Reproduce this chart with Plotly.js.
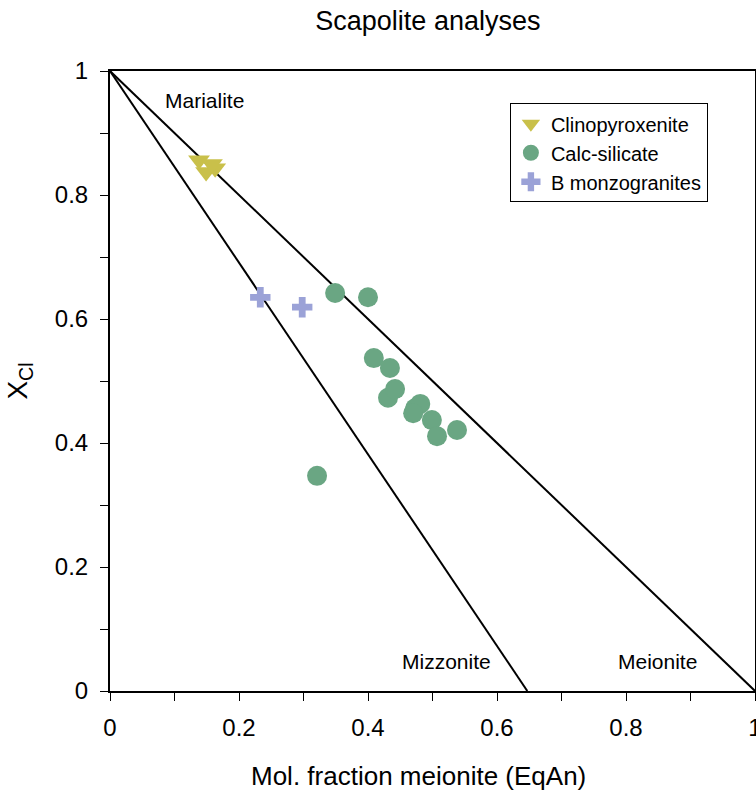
<!DOCTYPE html>
<html>
<head>
<meta charset="utf-8">
<script src="https://cdn.plot.ly/plotly-3.0.1.min.js"></script>
<style>html,body{margin:0;padding:0;background:#fff;}#chart{width:756px;height:794px;}</style>
</head>
<body>
<div id="chart"></div>
<script>
// Data
const clinoX = [0.138, 0.149, 0.163, 0.158];
const clinoY = [0.856, 0.837, 0.843, 0.850];
const calcX = [0.349, 0.400, 0.409, 0.434, 0.431, 0.442, 0.473, 0.481, 0.470, 0.499, 0.507, 0.538, 0.321];
const calcY = [0.642, 0.635, 0.537, 0.521, 0.473, 0.487, 0.456, 0.463, 0.448, 0.437, 0.411, 0.421, 0.347];
const bmonzX = [0.233, 0.298];
const bmonzY = [0.635, 0.619];
const meioniteLineX = [0, 1];
const meioniteLineY = [1, 0];
const mizzoniteLineX = [0, 0.647];
const mizzoniteLineY = [1, 0];
const labels = ["Marialite", "Mizzonite", "Meionite"];
const labelX = [0.147, 0.521, 0.849];
const labelY = [0.953, 0.048, 0.048];
const xTitle = 'Mol. fraction meionite (EqAn)';

const font = "Liberation Sans, Arial, sans-serif";

const traces = [
  {x: meioniteLineX, y: meioniteLineY, mode: 'lines', line: {color: '#000', width: 2}, showlegend: false, hoverinfo: 'skip'},
  {x: mizzoniteLineX, y: mizzoniteLineY, mode: 'lines', line: {color: '#000', width: 2}, showlegend: false, hoverinfo: 'skip'},
  {x: clinoX, y: clinoY, mode: 'markers', name: 'Clinopyroxenite',
   marker: {symbol: 'triangle-down', size: 19, color: '#c9c04a'}},
  {x: calcX, y: calcY, mode: 'markers', name: 'Calc-silicate',
   marker: {symbol: 'circle', size: 20, color: '#6aa683'}},
  {x: bmonzX, y: bmonzY, mode: 'markers', name: 'B monzogranites',
   marker: {symbol: 'cross', size: 17, color: '#9ba2d7'}}
];

const annotations = labels.map((t, i) => ({
  x: labelX[i], y: labelY[i], text: t, showarrow: false,
  font: {family: font, size: 21, color: '#000'}
}));
// x-axis title (placed slightly left of plot centre, as in the reference)
annotations.push({
  xref: 'paper', yref: 'paper', x: 0.479, y: -0.137, xanchor: 'center', yanchor: 'middle',
  text: xTitle, showarrow: false, font: {family: font, size: 26, color: '#000'}
});

const layout = {
  width: 756, height: 794,
  margin: {l: 110, r: 1, t: 71, b: 103, pad: 0},
  paper_bgcolor: '#fff', plot_bgcolor: '#fff',
  font: {family: font, color: '#000'},
  title: {text: 'Scapolite analyses', font: {family: font, size: 27, color: '#000'}, x: 0.566, xanchor: 'center', y: 0.974, yanchor: 'middle'},
  xaxis: {
    range: [0, 1], dtick: 0.2, tick0: 0, showgrid: false, zeroline: false,
    showline: true, linecolor: '#000', linewidth: 2, mirror: true,
    ticks: 'outside', ticklen: 8, tickwidth: 1, tickcolor: '#000',
    tickfont: {family: font, size: 24, color: '#000'},
    ticklabeloverflow: 'allow', ticklabelstandoff: 6,
    minor: {dtick: 0.1, ticks: 'outside', ticklen: 8, tickwidth: 1, tickcolor: '#000', showgrid: false},
    automargin: false
  },
  yaxis: {
    range: [0, 1], dtick: 0.2, tick0: 0, showgrid: false, zeroline: false,
    showline: true, linecolor: '#000', linewidth: 2, mirror: true,
    ticks: 'outside', ticklen: 8, tickwidth: 1, tickcolor: '#000',
    tickfont: {family: font, size: 24, color: '#000'},
    ticklabeloverflow: 'allow', ticklabelstandoff: 7,
    minor: {dtick: 0.1, ticks: 'outside', ticklen: 8, tickwidth: 1, tickcolor: '#000', showgrid: false},
    automargin: false,
    title: {text: 'X<sub>Cl</sub>', font: {family: font, size: 28, color: '#000'}, standoff: 19}
  },
  legend: {
    x: 0.62, y: 0.948, xanchor: 'left', yanchor: 'top',
    bordercolor: '#000', borderwidth: 1, bgcolor: '#fff',
    font: {family: font, size: 20, color: '#000'}
  },
  annotations: annotations,
  showlegend: true
};

Plotly.newPlot('chart', traces, layout, {staticPlot: true, displayModeBar: false});
</script>
</body>
</html>
